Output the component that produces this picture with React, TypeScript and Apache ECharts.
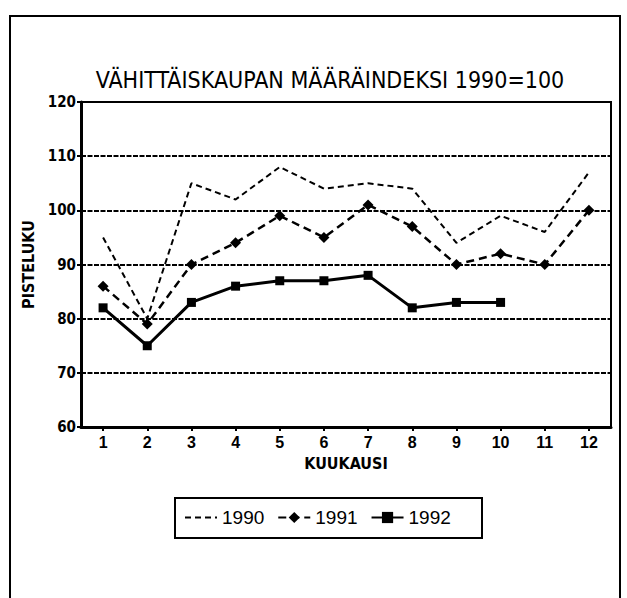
import React, { useEffect, useRef } from "react";
import * as echarts from "echarts";

const months = ["1", "2", "3", "4", "5", "6", "7", "8", "9", "10", "11", "12"];
const s1990 = [95, 80, 105, 102, 108, 104, 105, 104, 94, 99, 96, 107];
const s1991 = [86, 79, 90, 94, 99, 95, 101, 97, 90, 92, 90, 100];
const s1992 = [82, 75, 83, 86, 87, 87, 88, 82, 83, 83];
const titleText = "VÄHITTÄISKAUPAN MÄÄRÄINDEKSI 1990=100";

const NARROW = "'Liberation Sans Narrow', 'DejaVu Sans Condensed', 'Liberation Sans', Arial, sans-serif";
const SANS = "'Liberation Sans', Arial, sans-serif";

export default function App() {
  const ref = useRef<HTMLDivElement>(null);
  useEffect(() => {
    if (!ref.current) return;
    const chart = echarts.init(ref.current, null, { renderer: "svg" });
    chart.setOption({
      animation: false,
      backgroundColor: "#fff",
      grid: {
        left: 81,
        right: 16,
        top: 102,
        bottom: 171,
        show: true,
        borderColor: "#000",
        borderWidth: 2,
      },
      graphic: [
        {
          type: "rect",
          shape: { x: 10, y: 16, width: 610, height: 620 },
          style: { fill: "none", stroke: "#000", lineWidth: 2 },
          z: 0,
        },
        {
          type: "text",
          x: 330,
          y: 80,
          style: {
            text: titleText,
            font: `23px ${NARROW}`,
            fill: "#000",
            align: "center",
            verticalAlign: "middle",
          },
        },
        {
          type: "rect",
          shape: { x: 175, y: 498, width: 307, height: 40 },
          style: { fill: "none", stroke: "#000", lineWidth: 2 },
        },
      ],
      legend: {
        left: 184,
        top: 508,
        itemWidth: 32,
        itemHeight: 14,
        itemGap: 13,
        padding: 0,
        textStyle: { fontSize: 19, color: "#000", fontFamily: SANS },
        data: [
          { name: "1990", itemStyle: { opacity: 0 } },
          { name: "1991" },
          { name: "1992" },
        ],
      },
      xAxis: {
        type: "category",
        data: months,
        boundaryGap: true,
        axisLine: { show: true, lineStyle: { color: "#000", width: 3 } },
        axisTick: { show: true, alignWithLabel: true, length: 4, lineStyle: { color: "#000", width: 2 } },
        axisLabel: { color: "#000", fontSize: 16, fontWeight: "bold", fontFamily: SANS, margin: 7 },
        splitLine: { show: false },
        name: "KUUKAUSI",
        nameLocation: "middle",
        nameGap: 28,
        nameTextStyle: { color: "#000", fontSize: 16, fontWeight: "bold", fontFamily: NARROW },
      },
      yAxis: {
        type: "value",
        min: 60,
        max: 120,
        interval: 10,
        axisLine: { show: true, lineStyle: { color: "#000", width: 3 } },
        axisTick: { show: true, length: 4, lineStyle: { color: "#000", width: 2 } },
        axisLabel: { color: "#000", fontSize: 15, fontWeight: "bold", fontFamily: NARROW, margin: 5 },
        splitLine: { show: true, lineStyle: { color: "#000", width: 2, type: [5, 1.5] } },
        name: "PISTELUKU",
        nameLocation: "middle",
        nameGap: 39,
        nameTextStyle: { color: "#000", fontSize: 16, fontWeight: "bold", fontFamily: NARROW },
      },
      series: [
        {
          name: "1990",
          type: "line",
          data: s1990,
          symbol: "none",
          lineStyle: { color: "#000", width: 2, type: [6, 4] },
          itemStyle: { color: "#000" },
        },
        {
          name: "1991",
          type: "line",
          data: s1991,
          symbol: "diamond",
          symbolSize: 11,
          lineStyle: { color: "#000", width: 2.5, type: [8, 5] },
          itemStyle: { color: "#000" },
        },
        {
          name: "1992",
          type: "line",
          data: s1992,
          symbol: "rect",
          symbolSize: 9,
          lineStyle: { color: "#000", width: 3 },
          itemStyle: { color: "#000" },
        },
      ],
    });
    return () => chart.dispose();
  }, []);
  return (
    <div
      ref={ref}
      style={{ position: "fixed", left: 0, top: 0, width: 627, height: 598 }}
    />
  );
}
